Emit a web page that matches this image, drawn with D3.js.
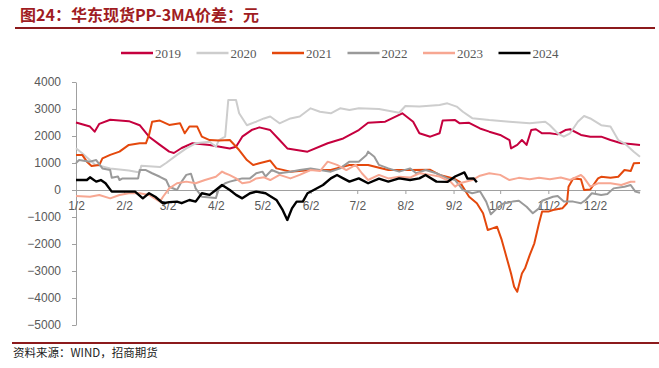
<!DOCTYPE html>
<html>
<head>
<meta charset="UTF-8">
<title>华东现货PP-3MA价差</title>
<style>
  body { margin: 0; background: #fff; }
  .axis text { font-family: "Liberation Sans", Arial, sans-serif; font-size: 12px; fill: #595959; }
  .axis path, .axis line { stroke: #a0a0a0; }
  .series path { fill: none; stroke-linejoin: round; }
</style>
</head>
<body>
<svg></svg>
<script src="https://d3js.org/d3.v7.min.js"></script>
<script>

// data: [month-day, value]
var years = ["2019", "2020", "2021", "2022", "2023", "2024"];
var tickLabels = ["1/2", "2/2", "3/2", "4/2", "5/2", "6/2", "7/2", "8/2", "9/2", "10/2", "11/2", "12/2"];
var yTicks = [4000, 3000, 2000, 1000, 0, -1000, -2000, -3000, -4000, -5000];

var s2019 = [["01-02",2500],["01-11",2350],["01-14",2160],["01-17",2450],["01-24",2600],["02-05",2550],["02-12",2400],
  ["02-18",1975],["02-25",1670],["03-03",1420],["03-06",1370],["03-11",1555],["03-18",1730],["03-29",1670],["04-11",1540],
  ["04-15",1600],["04-19",1975],["04-25",2220],["04-30",2320],["05-07",2220],["05-13",1850],["05-18",1540],["05-31",1420],
  ["06-13",1730],["06-23",1910],["07-03",2220],["07-09",2490],["07-20",2530],["07-31",2840],["08-07",2530],["08-11",2100],
  ["08-18",1975],["08-24",2100],["08-26",2570],["09-03",2590],["09-06",2470],["09-12",2490],["09-19",2280],["09-25",2160],
  ["10-02",2040],["10-08",1850],["10-09",1540],["10-13",1670],["10-16",1850],["10-19",1670],["10-22",2220],["10-25",2250],
  ["10-29",2100],["11-03",2100],["11-08",2060],["11-13",2220],["11-16",2250],["11-23",2040],["11-29",1975],["12-06",1975],
  ["12-12",1850],["12-19",1730],["12-25",1700],["12-31",1670]];

var s2020 = [["01-02",1550],["01-06",1360],["01-14",950],["01-24",800],["02-05",720],["02-12",650],["02-13",900],
  ["02-25",850],["03-01",1000],["03-08",1300],["03-14",1540],["03-20",1730],["03-29",1790],["04-02",1600],["04-04",1850],
  ["04-08",1975],["04-10",3330],["04-15",3330],["04-17",2840],["04-22",2400],["04-28",2530],["05-03",2650],["05-07",2720],
  ["05-13",2470],["05-20",2650],["05-26",2720],["06-02",3025],["06-08",2900],["06-15",2840],["06-21",3025],["06-27",2960],
  ["07-03",3025],["07-16",3000],["07-29",2860],["08-02",3110],["08-11",3090],["08-24",3150],["08-29",3210],["09-04",3090],
  ["09-08",2900],["09-14",2660],["09-25",2590],["10-08",2530],["10-21",2470],["10-31",2530],["11-03",2400],["11-08",2100],
  ["11-12",1975],["11-16",2100],["11-21",2530],["11-25",2740],["11-29",2650],["12-06",2400],["12-12",2350],["12-17",1850],
  ["12-21",1730],["12-27",1420],["12-31",1235]];

var s2021 = [["01-02",1300],["01-06",1300],["01-09",1050],["01-12",890],["01-17",925],["01-19",1170],["01-24",1300],
  ["01-30",1420],["02-05",1670],["02-12",1730],["02-16",1730],["02-18",2040],["02-20",2530],["02-25",2570],["03-03",2410],
  ["03-10",2470],["03-13",2100],["03-16",2350],["03-21",2350],["03-24",1975],["03-29",1850],["04-04",1830],["04-11",1850],
  ["04-17",1480],["04-22",1110],["04-26",925],["04-30",990],["05-07",1090],["05-11",800],["05-20",680],["06-02",740],
  ["06-15",740],["06-27",925],["07-09",925],["07-22",740],["08-05",740],["08-18",750],["08-24",556],["09-02",430],
  ["09-06",300],["09-12",-250],["09-17",-490],["09-21",-860],["09-24",-1480],["09-27",-1420],["09-30",-1360],["10-03",-1850],
  ["10-06",-2470],["10-09",-3090],["10-11",-3580],["10-13",-3770],["10-16",-3090],["10-18",-2900],["10-21",-2410],
  ["10-24",-1975],["10-27",-1235],["10-29",-800],["11-02",-800],["11-05",-740],["11-11",-680],["11-14",-490],["11-15",120],
  ["11-18",430],["11-23",400],["11-25",0],["11-29",20],["12-04",430],["12-06",490],["12-12",450],["12-17",490],
  ["12-21",740],["12-25",700],["12-27",990],["12-31",1000]];

var s2022 = [["01-02",1000],["01-04",1110],["01-11",1050],["01-15",1110],["01-19",800],["01-24",740],["01-25",450],
  ["01-29",500],["01-30",370],["02-01",430],["02-05",430],["02-11",430],["02-12",740],["02-16",740],["02-20",620],
  ["02-25",490],["03-01",370],["03-03",120],["03-08",0],["03-11",310],["03-14",560],["03-17",600],["03-20",60],
  ["03-24",-250],["04-02",-300],["04-04",60],["04-08",250],["04-11",310],["04-15",370],["04-19",430],["04-24",430],
  ["04-28",620],["05-02",680],["05-04",500],["05-08",740],["05-13",620],["05-20",680],["05-26",740],["06-02",800],
  ["06-08",740],["06-15",680],["06-21",800],["06-27",1050],["07-03",1050],["07-08",1300],["07-09",1420],["07-13",1235],
  ["07-16",930],["07-22",800],["07-29",680],["08-05",800],["08-09",620],["08-15",740],["08-22",620],["08-29",430],
  ["09-03",370],["09-06",150],["09-08",0],["09-14",-120],["09-19",-50],["09-23",-430],["09-26",-900],["09-30",-680],
  ["10-04",-500],["10-10",-430],["10-14",-400],["10-19",-620],["10-23",-860],["10-27",-680],["10-29",-400],["11-05",-250],
  ["11-08",-220],["11-12",-430],["11-18",-430],["11-23",-490],["11-26",-370],["11-30",-120],["12-06",-185],["12-10",-150],
  ["12-14",60],["12-21",120],["12-25",185],["12-28",-60],["12-31",-100]];

var s2023 = [["01-02",-220],["01-11",-250],["01-17",-185],["01-24",-310],["01-30",-185],["02-05",-120],["02-12",-120],
  ["02-18",-185],["02-25",-430],["02-27",-250],["03-03",60],["03-08",250],["03-14",310],["03-20",250],["03-26",370],
  ["04-02",490],["04-06",680],["04-08",620],["04-11",550],["04-15",430],["04-19",250],["04-24",300],["04-28",430],
  ["05-03",470],["05-07",370],["05-13",560],["05-20",430],["05-26",560],["06-02",740],["06-08",700],["06-13",1050],
  ["06-19",930],["06-25",740],["07-01",930],["07-05",620],["07-09",370],["07-16",560],["07-22",430],["07-29",490],
  ["08-05",460],["08-11",620],["08-18",560],["08-24",500],["08-31",310],["09-03",123],["09-06",250],["09-14",370],
  ["09-19",530],["09-25",617],["10-02",560],["10-08",370],["10-14",450],["10-21",400],["10-27",450],["11-03",400],
  ["11-10",460],["11-16",370],["11-23",555],["11-25",450],["11-29",123],["12-04",247],["12-12",247],["12-19",185],
  ["12-25",308],["12-28",308]];

var s2024 = [["01-02",370],["01-09",370],["01-11",470],["01-15",310],["01-18",370],["01-21",250],["01-25",-60],
  ["01-29",-60],["02-03",-60],["02-09",-60],["02-14",-310],["02-18",-120],["02-22",-250],["02-27",-490],["03-03",-450],
  ["03-08",-430],["03-11",-490],["03-16",-370],["03-20",-430],["03-24",-120],["03-29",-180],["04-02",0],["04-06",185],
  ["04-11",0],["04-15",-180],["04-19",-310],["04-24",-120],["04-28",-60],["05-04",-120],["05-11",-370],["05-15",-740],
  ["05-18",-1110],["05-21",-680],["05-24",-430],["05-28",-430],["05-31",-120],["06-04",0],["06-10",185],["06-15",430],
  ["06-19",556],["06-23",430],["06-27",310],["07-03",430],["07-09",250],["07-16",420],["07-22",310],["07-29",430],
  ["08-05",370],["08-11",430],["08-15",556],["08-22",310],["08-29",300],["09-03",500],["09-09",650],["09-11",420],
  ["09-15",430],["09-17",290]];

var seriesData = [s2019, s2020, s2021, s2022, s2023, s2024];
var colors = ["#c5003e", "#cdcdcd", "#e4480c", "#9a9a9a", "#f7a792", "#000000"];
var widths = [2, 2, 2, 2, 2, 2.4];

var width = 659, height = 368;
var parseDay = d3.timeParse("%Y-%m-%d");
var parseTick = d3.timeParse("%Y/%m/%d");

var svg = d3.select("svg")
  .attr("width", width)
  .attr("height", height)
  .style("display", "block");

var x = d3.scaleTime()
  .domain([parseDay("2019-01-02"), parseDay("2019-12-31")])
  .range([76, 640]);

var y = d3.scaleLinear()
  .domain([-5000, 4000])
  .range([325, 82]);

// title and rules
svg.append("text")
  .attr("x", 20)
  .attr("y", 21)
  .attr("font-family", "'Noto Sans CJK SC', sans-serif")
  .attr("font-weight", "bold")
  .attr("font-size", "16px")
  .attr("fill", "#a01c22")
  .text("图24：华东现货PP-3MA价差：元");

svg.append("line")
  .attr("x1", 15).attr("x2", 655)
  .attr("y1", 28).attr("y2", 28)
  .attr("stroke", "#8c1a1c")
  .attr("stroke-width", 2);

svg.append("line")
  .attr("x1", 12).attr("x2", 659)
  .attr("y1", 343).attr("y2", 343)
  .attr("stroke", "#8c1a1c")
  .attr("stroke-width", 2);

svg.append("text")
  .attr("x", 13)
  .attr("y", 357)
  .attr("font-family", "'Noto Sans CJK SC', sans-serif")
  .attr("font-size", "11.5px")
  .attr("fill", "#222")
  .text("资料来源：WIND，招商期货");

// legend
var legend = svg.append("g")
  .selectAll("g")
  .data(years)
  .enter().append("g")
  .attr("transform", function (d, i) { return "translate(" + (121 + i * 75.5) + ",53)"; });

legend.append("line")
  .attr("x1", 0).attr("x2", 32)
  .attr("stroke", function (d, i) { return colors[i]; })
  .attr("stroke-width", 2.5);

legend.append("text")
  .attr("x", 34)
  .attr("y", 4.5)
  .attr("font-family", "'Liberation Serif', 'Times New Roman', serif")
  .attr("font-size", "13px")
  .attr("fill", "#595959")
  .text(function (d) { return d; });

// axes
svg.append("g")
  .attr("class", "axis")
  .attr("transform", "translate(76,0)")
  .call(d3.axisLeft(y).tickValues(yTicks).tickFormat(d3.format("d"))
    .tickSize(4).tickSizeOuter(0).tickPadding(11));

svg.append("g")
  .attr("class", "axis")
  .attr("transform", "translate(0," + y(0) + ")")
  .call(d3.axisBottom(x)
    .tickValues(tickLabels.map(function (t) { return parseTick("2019/" + t); }))
    .tickFormat(function (d, i) { return tickLabels[i]; })
    .tickSize(4).tickSizeOuter(0).tickPadding(7));

// series
var line = d3.line()
  .x(function (d) { return x(parseDay("2019-" + d[0])); })
  .y(function (d) { return y(d[1]); });

svg.append("g")
  .attr("class", "series")
  .selectAll("path")
  .data(seriesData)
  .enter().append("path")
  .attr("d", line)
  .attr("stroke", function (d, i) { return colors[i]; })
  .attr("stroke-width", function (d, i) { return widths[i]; });

</script>
</body>
</html>
